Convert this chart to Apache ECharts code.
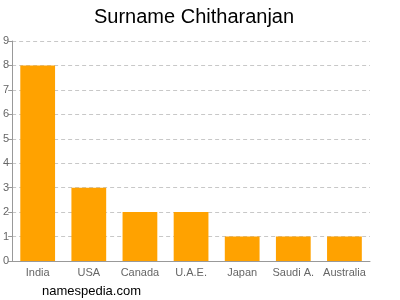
<!DOCTYPE html>
<html><head><meta charset="utf-8">
<script src="https://cdn.jsdelivr.net/npm/echarts@6/dist/echarts.min.js"></script>
<style>html,body{margin:0;padding:0;background:#fff}#c{width:400px;height:300px}</style>
</head><body><div id="c"></div>
<script>
var categories = ["India","USA","Canada","U.A.E.","Japan","Saudi A.","Australia"];
var values = [8,3,2,2,1,1,1];
var chart = echarts.init(document.getElementById('c'), null, {renderer:'canvas'});
chart.setOption({
  animation:false,
  title:{text:'Surname Chitharanjan',left:89,top:2,textStyle:{fontFamily:'Liberation Sans, Arial',fontSize:20,fontWeight:'normal',color:'#000'}},
  graphic:[{type:'text',left:42,top:285,style:{text:'namespedia.com',font:'13px "Liberation Sans", Arial',fill:'#000'}}],
  grid:{left:12,right:30,top:41,bottom:39,containLabel:false},
  xAxis:{type:'category',data:categories,axisTick:{show:false},axisLine:{lineStyle:{color:'#999'}},
    axisLabel:{color:'#666',fontFamily:'Liberation Sans, Arial',fontSize:11,margin:6,interval:0}},
  yAxis:{type:'value',min:0,max:9,interval:1,
    axisLine:{show:true,lineStyle:{color:'#999'}},axisTick:{show:true,length:4,lineStyle:{color:'#999'}},
    axisLabel:{color:'#666',fontFamily:'Liberation Sans, Arial',fontSize:11,margin:3},
    splitLine:{lineStyle:{color:'#c8c8c8',type:[4,3]}}},
  series:[{type:'bar',data:values,barWidth:'68%',itemStyle:{color:'#FFA200'}}]
});
</script></body></html>
